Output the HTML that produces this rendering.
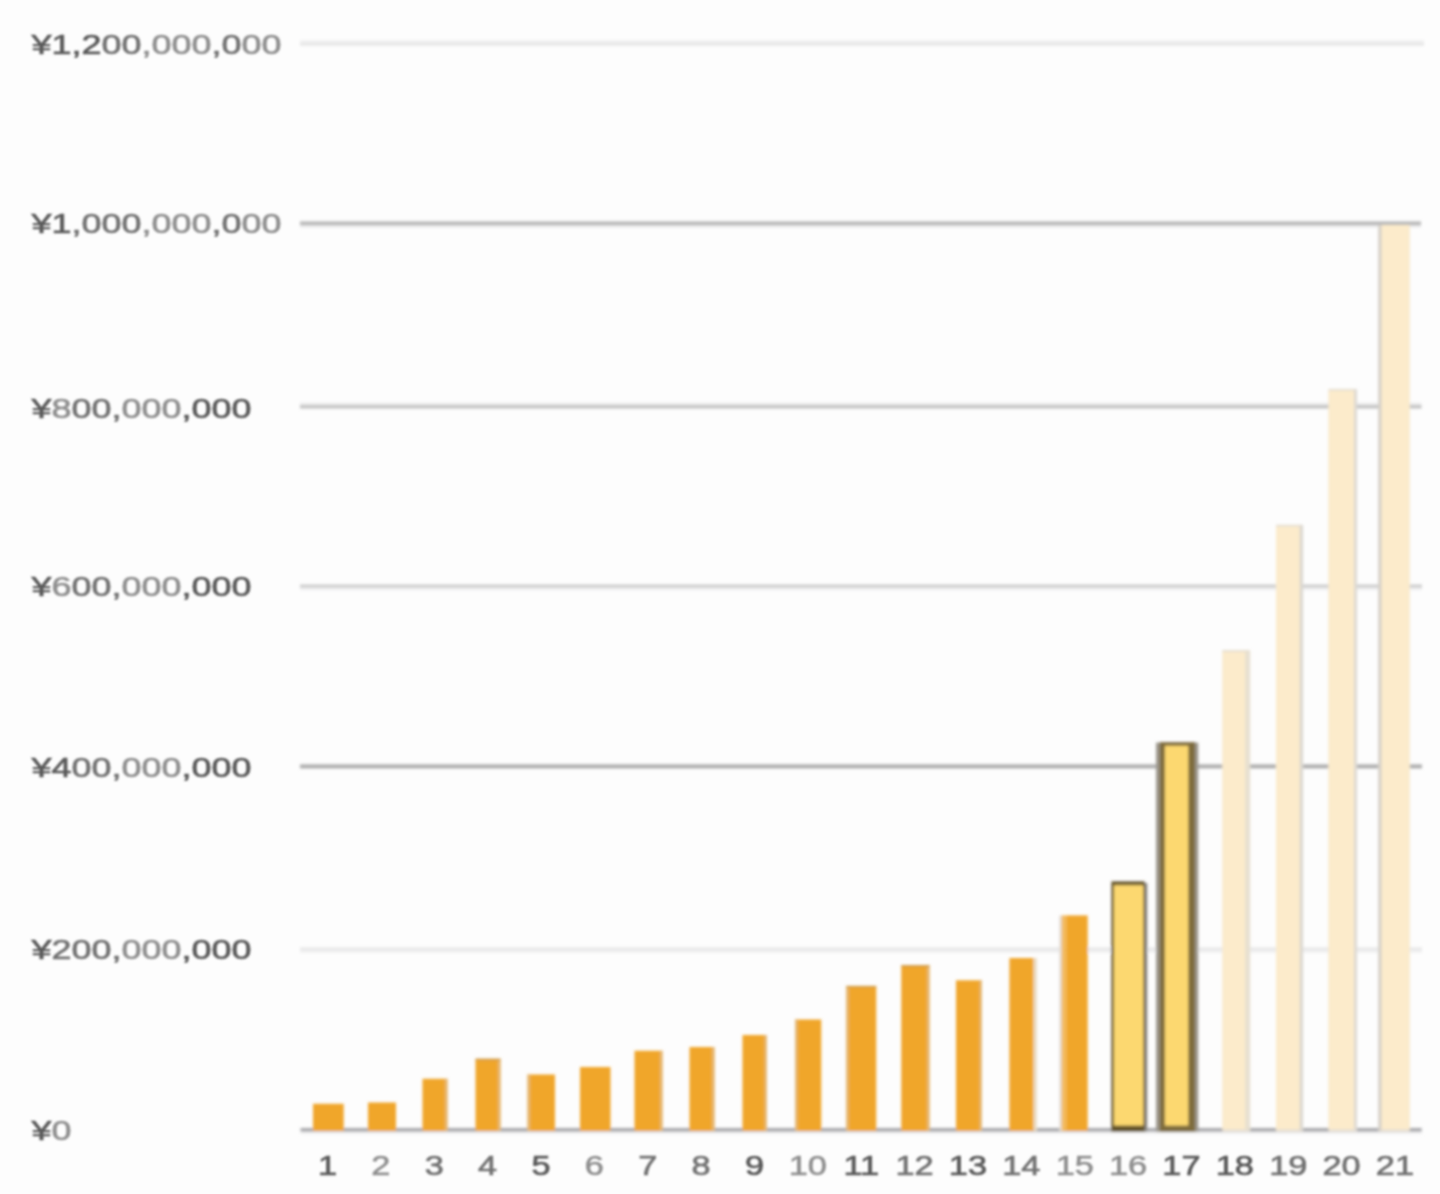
<!DOCTYPE html>
<html lang="ja"><head><meta charset="utf-8"><title>chart</title>
<style>
html,body{margin:0;padding:0;background:#fdfdfd;}
body{width:1440px;height:1194px;overflow:hidden;}
svg{display:block;}
text{font-family:"Liberation Sans","Noto Sans CJK JP",sans-serif;fill:#5a5a5a;stroke:#5a5a5a;stroke-width:0.7px;}
.m{fill:#727272;stroke:#727272}.l{fill:#8f8f8f;stroke:#8f8f8f;stroke-width:0.6px}
</style></head><body>
<svg width="1440" height="1194" viewBox="0 0 1440 1194">
<defs><filter id="b" x="-2%" y="-2%" width="104%" height="104%"><feGaussianBlur stdDeviation="1.4"/></filter>
<filter id="bt" x="-5%" y="-30%" width="110%" height="160%"><feGaussianBlur stdDeviation="1.25"/></filter></defs>
<rect width="1440" height="1194" fill="#fdfdfd"/>
<g filter="url(#b)">
<rect x="300" y="40.00" width="1124" height="3" fill="#f1f1f2"/>
<rect x="300" y="42.70" width="1124" height="3.0" fill="#e6e6e6"/>
<rect x="300" y="225.10" width="1121" height="3" fill="#f1f1f2"/>
<rect x="300" y="221.40" width="1121" height="4.0" fill="#b8b8b8"/>
<rect x="300" y="402.20" width="1121.5" height="3" fill="#f1f1f2"/>
<rect x="300" y="404.90" width="1121.5" height="3.6" fill="#c3c3c3"/>
<rect x="300" y="587.40" width="1122" height="3" fill="#f1f1f2"/>
<rect x="300" y="584.50" width="1122" height="3.2" fill="#cecece"/>
<rect x="300" y="764.40" width="1122" height="4.0" fill="#adadad"/>
<rect x="300" y="950.00" width="1122" height="3" fill="#f1f1f2"/>
<rect x="300" y="947.30" width="1122" height="3.0" fill="#e8e8e8"/>
<rect x="300.5" y="1131.30" width="1121.2" height="3" fill="#f1f1f2"/>
<rect x="300.5" y="1128.00" width="1121.2" height="3.6" fill="#a7a7ab"/>
<rect x="313" y="1103.75" width="30.75" height="27.25" fill="#f0a62b"/>
<rect x="368" y="1102.5" width="28" height="28.5" fill="#f0a62b"/>
<rect x="422.5" y="1078.75" width="25.0" height="52.25" fill="#f0a62b"/>
<rect x="444.9" y="1078.75" width="2.6" height="52.25" fill="#e4b874"/>
<rect x="475.5" y="1059" width="25.0" height="72.0" fill="#f0a62b"/>
<rect x="497.9" y="1059" width="2.6" height="72.0" fill="#e4b874"/>
<rect x="475.5" y="1058.6" width="25.0" height="1.8" fill="#cf9a45"/>
<rect x="527.5" y="1074.5" width="27.5" height="56.5" fill="#f0a62b"/>
<rect x="527.5" y="1074.5" width="2.6" height="56.5" fill="#e4b874"/>
<rect x="580" y="1067" width="30.5" height="64.0" fill="#f0a62b"/>
<rect x="634.5" y="1050.75" width="28.0" height="80.25" fill="#f0a62b"/>
<rect x="659.9" y="1050.75" width="2.6" height="80.25" fill="#e4b874"/>
<rect x="689.5" y="1047" width="25.0" height="84.0" fill="#f0a62b"/>
<rect x="711.9" y="1047" width="2.6" height="84.0" fill="#e4b874"/>
<rect x="742.5" y="1035" width="24.5" height="96.0" fill="#f0a62b"/>
<rect x="764.4" y="1035" width="2.6" height="96.0" fill="#e4b874"/>
<rect x="795" y="1019.5" width="26.25" height="111.5" fill="#f0a62b"/>
<rect x="795" y="1019.5" width="2.6" height="111.5" fill="#e4b874"/>
<rect x="846.25" y="986.25" width="30.0" height="144.75" fill="#f0a62b"/>
<rect x="846.25" y="986.25" width="2.6" height="144.75" fill="#e4b874"/>
<rect x="846.25" y="985.85" width="30.0" height="1.8" fill="#cf9a45"/>
<rect x="901.25" y="965.5" width="28.25" height="165.5" fill="#f0a62b"/>
<rect x="926.9" y="965.5" width="2.6" height="165.5" fill="#e4b874"/>
<rect x="901.25" y="965.1" width="28.25" height="1.8" fill="#cf9a45"/>
<rect x="956" y="980.3" width="26" height="150.70000000000005" fill="#f0a62b"/>
<rect x="979.4" y="980.3" width="2.6" height="150.70000000000005" fill="#e4b874"/>
<rect x="1009.4" y="958" width="24.300000000000068" height="173.0" fill="#f0a62b"/>
<rect x="1033.7" y="958" width="3.2" height="173.0" fill="#e9dbc4"/>
<rect x="1059.3" y="915.4" width="4" height="215.60000000000002" fill="#e3ddd6"/>
<rect x="1061.7" y="915.4" width="5" height="215.60000000000002" fill="#f3ba5c"/>
<rect x="1066.3" y="915.4" width="21.4" height="215.60000000000002" fill="#f0a62b"/>
<rect x="1143.0" y="883" width="4.3" height="248.5" fill="#888783"/>
<rect x="1111.4" y="881.4" width="33.2" height="250.4" fill="#64532a"/>
<rect x="1114.0" y="885.2" width="29.4" height="240.4" fill="#fcd870"/>
<rect x="1156.0" y="742.6" width="42.3" height="389.2" fill="#9b968b"/>
<rect x="1159.8" y="742.2" width="35.2" height="389.59999999999997" fill="#7e6c3d"/>
<rect x="1164.9" y="745.8000000000001" width="23.4" height="379.8" fill="#fcd870"/>
<rect x="1222.5" y="650.5" width="27.40000000000009" height="481.1" fill="#ebe2d3"/>
<rect x="1222.5" y="650.5" width="27.40000000000009" height="478.5" fill="#fcebcb"/>
<rect x="1222.5" y="650.0" width="27.40000000000009" height="2" fill="#e6dfd1"/>
<rect x="1245.1000000000001" y="650.5" width="5.1" height="480.5" fill="#e7e0d0"/>
<rect x="1276.0" y="525.2" width="26.799999999999955" height="606.4" fill="#ebe2d3"/>
<rect x="1276.0" y="525.2" width="26.799999999999955" height="603.8" fill="#fcebcb"/>
<rect x="1276.0" y="524.7" width="26.799999999999955" height="2" fill="#e6dfd1"/>
<rect x="1299.6" y="525.2" width="3.5" height="605.8" fill="#dcd8d0"/>
<rect x="1328.6" y="389.4" width="28.200000000000045" height="742.2" fill="#ebe2d3"/>
<rect x="1328.6" y="389.4" width="28.200000000000045" height="739.6" fill="#fcebcb"/>
<rect x="1328.6" y="388.9" width="28.200000000000045" height="2" fill="#e6dfd1"/>
<rect x="1354.0" y="389.4" width="3.0999999999999996" height="741.6" fill="#dedad3"/>
<rect x="1378.6" y="225" width="31.0" height="906.6" fill="#ebe2d3"/>
<rect x="1378.6" y="225" width="31.0" height="904.0" fill="#fcebcb"/>
<rect x="1378.3" y="225" width="3.2" height="906.0" fill="#d4d0c9"/>
</g>
<g filter="url(#bt)">
<defs><linearGradient id="g12" x1="0" y1="0" x2="1" y2="0"><stop offset="0" stop-color="#5a5a5a"/><stop offset="0.28" stop-color="#5a5a5a"/><stop offset="0.28" stop-color="#727272"/><stop offset="0.44" stop-color="#727272"/><stop offset="0.44" stop-color="#8f8f8f"/><stop offset="0.72" stop-color="#8f8f8f"/><stop offset="0.72" stop-color="#727272"/><stop offset="0.84" stop-color="#727272"/><stop offset="0.84" stop-color="#8f8f8f"/><stop offset="1" stop-color="#8f8f8f"/></linearGradient><linearGradient id="g10" x1="0" y1="0" x2="1" y2="0"><stop offset="0" stop-color="#5a5a5a"/><stop offset="0.16" stop-color="#5a5a5a"/><stop offset="0.16" stop-color="#727272"/><stop offset="0.44" stop-color="#727272"/><stop offset="0.44" stop-color="#8f8f8f"/><stop offset="0.72" stop-color="#8f8f8f"/><stop offset="0.72" stop-color="#727272"/><stop offset="0.84" stop-color="#727272"/><stop offset="0.84" stop-color="#8f8f8f"/><stop offset="1" stop-color="#8f8f8f"/></linearGradient><linearGradient id="g8" x1="0" y1="0" x2="1" y2="0"><stop offset="0" stop-color="#5a5a5a"/><stop offset="0.091" stop-color="#5a5a5a"/><stop offset="0.091" stop-color="#8f8f8f"/><stop offset="0.182" stop-color="#8f8f8f"/><stop offset="0.182" stop-color="#727272"/><stop offset="0.409" stop-color="#727272"/><stop offset="0.409" stop-color="#8f8f8f"/><stop offset="0.682" stop-color="#8f8f8f"/><stop offset="0.682" stop-color="#5a5a5a"/><stop offset="1" stop-color="#5a5a5a"/></linearGradient><linearGradient id="g6" x1="0" y1="0" x2="1" y2="0"><stop offset="0" stop-color="#5a5a5a"/><stop offset="0.091" stop-color="#5a5a5a"/><stop offset="0.091" stop-color="#8f8f8f"/><stop offset="0.182" stop-color="#8f8f8f"/><stop offset="0.182" stop-color="#727272"/><stop offset="0.409" stop-color="#727272"/><stop offset="0.409" stop-color="#8f8f8f"/><stop offset="0.682" stop-color="#8f8f8f"/><stop offset="0.682" stop-color="#5a5a5a"/><stop offset="1" stop-color="#5a5a5a"/></linearGradient><linearGradient id="g4" x1="0" y1="0" x2="1" y2="0"><stop offset="0" stop-color="#5a5a5a"/><stop offset="0.182" stop-color="#5a5a5a"/><stop offset="0.182" stop-color="#727272"/><stop offset="0.409" stop-color="#727272"/><stop offset="0.409" stop-color="#8f8f8f"/><stop offset="0.682" stop-color="#8f8f8f"/><stop offset="0.682" stop-color="#5a5a5a"/><stop offset="1" stop-color="#5a5a5a"/></linearGradient><linearGradient id="g2" x1="0" y1="0" x2="1" y2="0"><stop offset="0" stop-color="#5a5a5a"/><stop offset="0.091" stop-color="#5a5a5a"/><stop offset="0.091" stop-color="#727272"/><stop offset="0.409" stop-color="#727272"/><stop offset="0.409" stop-color="#8f8f8f"/><stop offset="0.682" stop-color="#8f8f8f"/><stop offset="0.682" stop-color="#5a5a5a"/><stop offset="1" stop-color="#5a5a5a"/></linearGradient><linearGradient id="g0" x1="0" y1="0" x2="1" y2="0"><stop offset="0" stop-color="#5a5a5a"/><stop offset="0.5" stop-color="#5a5a5a"/><stop offset="0.5" stop-color="#8f8f8f"/><stop offset="1" stop-color="#8f8f8f"/></linearGradient></defs>
<text transform="translate(31.5 54.0) scale(1.262 1)" font-size="28.5" style="fill:url(#g12);stroke:url(#g12)">¥1,200,000,000</text>
<text transform="translate(31.5 233.0) scale(1.262 1)" font-size="28.5" style="fill:url(#g10);stroke:url(#g10)">¥1,000,000,000</text>
<text transform="translate(31.5 417.6) scale(1.262 1)" font-size="28.5" style="fill:url(#g8);stroke:url(#g8)">¥800,000,000</text>
<text transform="translate(31.5 595.6) scale(1.262 1)" font-size="28.5" style="fill:url(#g6);stroke:url(#g6)">¥600,000,000</text>
<text transform="translate(31.5 777.0) scale(1.262 1)" font-size="28.5" style="fill:url(#g4);stroke:url(#g4)">¥400,000,000</text>
<text transform="translate(31.5 959.2) scale(1.262 1)" font-size="28.5" style="fill:url(#g2);stroke:url(#g2)">¥200,000,000</text>
<text transform="translate(31.5 1139.8) scale(1.262 1)" font-size="28.5" style="fill:url(#g0);stroke:url(#g0)">¥0</text>
<text class="" transform="translate(327.5 1175.0) scale(1.27 1)" font-size="27" text-anchor="middle">1</text>
<text class="l" transform="translate(380.9 1175.0) scale(1.27 1)" font-size="27" text-anchor="middle">2</text>
<text class="m" transform="translate(434.2 1175.0) scale(1.27 1)" font-size="27" text-anchor="middle">3</text>
<text class="m" transform="translate(487.6 1175.0) scale(1.27 1)" font-size="27" text-anchor="middle">4</text>
<text class="" transform="translate(541.0 1175.0) scale(1.27 1)" font-size="27" text-anchor="middle">5</text>
<text class="l" transform="translate(594.3 1175.0) scale(1.27 1)" font-size="27" text-anchor="middle">6</text>
<text class="m" transform="translate(647.7 1175.0) scale(1.27 1)" font-size="27" text-anchor="middle">7</text>
<text class="m" transform="translate(701.1 1175.0) scale(1.27 1)" font-size="27" text-anchor="middle">8</text>
<text class="" transform="translate(754.5 1175.0) scale(1.27 1)" font-size="27" text-anchor="middle">9</text>
<text class="l" transform="translate(807.8 1175.0) scale(1.27 1)" font-size="27" text-anchor="middle">10</text>
<text class="" transform="translate(861.2 1175.0) scale(1.27 1)" font-size="27" text-anchor="middle">11</text>
<text class="m" transform="translate(914.6 1175.0) scale(1.27 1)" font-size="27" text-anchor="middle">12</text>
<text class="" transform="translate(967.9 1175.0) scale(1.27 1)" font-size="27" text-anchor="middle">13</text>
<text class="m" transform="translate(1021.3 1175.0) scale(1.27 1)" font-size="27" text-anchor="middle">14</text>
<text class="l" transform="translate(1074.7 1175.0) scale(1.27 1)" font-size="27" text-anchor="middle">15</text>
<text class="l" transform="translate(1128.0 1175.0) scale(1.27 1)" font-size="27" text-anchor="middle">16</text>
<text class="" transform="translate(1181.4 1175.0) scale(1.27 1)" font-size="27" text-anchor="middle">17</text>
<text class="" transform="translate(1234.8 1175.0) scale(1.27 1)" font-size="27" text-anchor="middle">18</text>
<text class="m" transform="translate(1288.2 1175.0) scale(1.27 1)" font-size="27" text-anchor="middle">19</text>
<text class="m" transform="translate(1341.5 1175.0) scale(1.27 1)" font-size="27" text-anchor="middle">20</text>
<text class="m" transform="translate(1394.9 1175.0) scale(1.27 1)" font-size="27" text-anchor="middle">21</text>
</g>
</svg></body></html>
